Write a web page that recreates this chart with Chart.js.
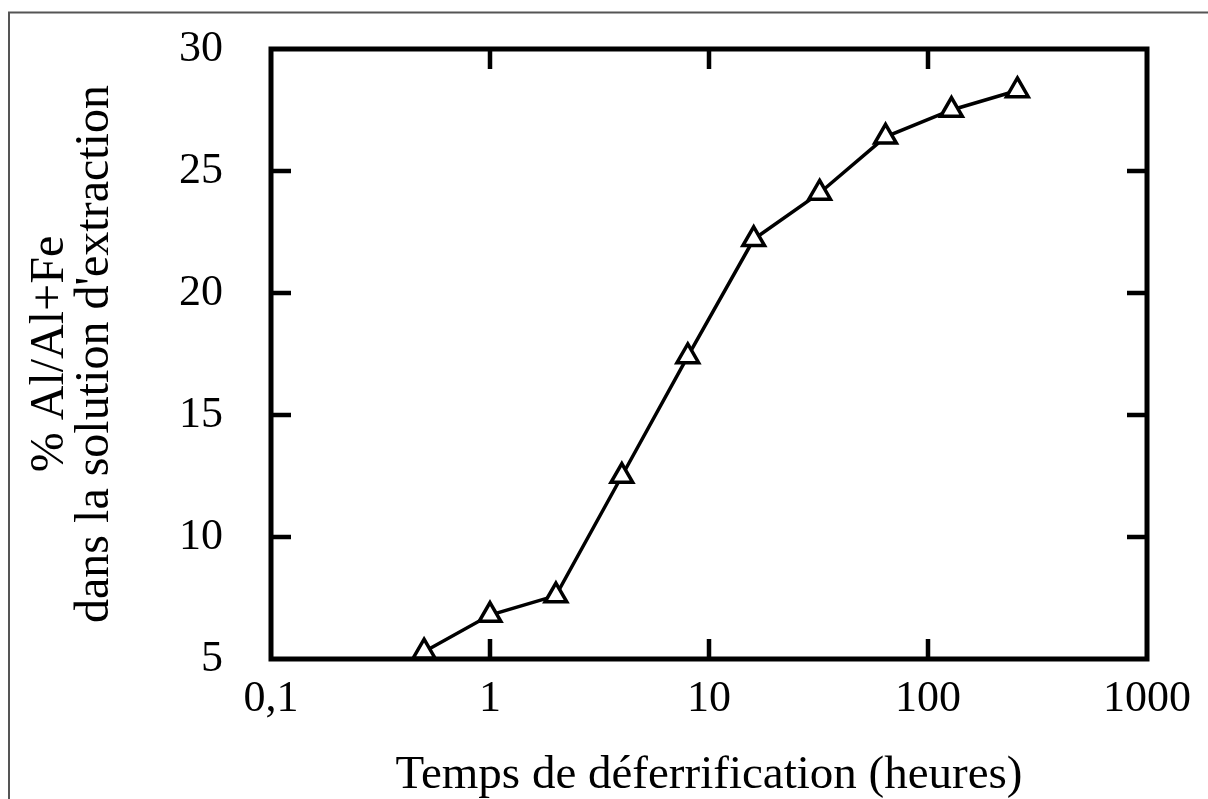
<!DOCTYPE html>
<html>
<head>
<meta charset="utf-8">
<script src="https://cdn.jsdelivr.net/npm/chart.js@4"></script>
<style>
  body { margin: 0; background: white; }
  canvas { display: block; }
</style>
</head>
<body>
<canvas id="myChart" width="1208" height="799"></canvas>
<script>
// temps (heures) et % Al/Al+Fe
const hours = [0.5, 1, 2, 4, 8, 16, 32, 64, 128, 256];
const alPercent = [5.3, 6.8, 7.6, 12.5, 17.4, 22.2, 24.1, 26.4, 27.5, 28.3];
const xTickValues = [0.1, 1, 10, 100, 1000];
const xTickLabels = ['0,1', '1', '10', '100', '1000'];
const yTickValues = [5, 10, 15, 20, 25, 30];

const serif = 'Liberation Serif';

// cadre du graphique + petites graduations vers l'intérieur
const framePlugin = {
    id: 'frame',
    beforeDraw(chart) {
        const ctx = chart.ctx;
        // trait du scan en haut et à gauche
        ctx.save();
        ctx.strokeStyle = '#555';
        ctx.lineWidth = 2;
        ctx.beginPath();
        ctx.moveTo(9, 799);
        ctx.lineTo(9, 12.5);
        ctx.lineTo(1208, 12.5);
        ctx.stroke();
        ctx.restore();
    },
    beforeDatasetsDraw(chart) {
        const { ctx, chartArea: a, scales } = chart;
        const tick = 20;
        ctx.save();
        ctx.strokeStyle = 'black';
        ctx.lineWidth = 4.5;
        ctx.lineCap = 'butt';
        ctx.beginPath();
        xTickValues.slice(1, -1).forEach(v => {
            const px = scales.x.getPixelForValue(v);
            ctx.moveTo(px, a.bottom); ctx.lineTo(px, a.bottom - tick);
            ctx.moveTo(px, a.top); ctx.lineTo(px, a.top + tick);
        });
        yTickValues.slice(1, -1).forEach(v => {
            const py = scales.y.getPixelForValue(v);
            ctx.moveTo(a.left, py); ctx.lineTo(a.left + tick, py);
            ctx.moveTo(a.right, py); ctx.lineTo(a.right - tick, py);
        });
        ctx.stroke();
        ctx.lineWidth = 5;
        ctx.lineJoin = 'miter';
        ctx.strokeRect(a.left, a.top, a.right - a.left, a.bottom - a.top);
        ctx.restore();
    }
};

new Chart(myChart, {
    type: 'scatter',
    data: {
        datasets: [{
            data: hours.map((h, i) => ({ x: h, y: alPercent[i] })),
            showLine: true,
            borderColor: 'black',
            borderWidth: 3.5,
            pointStyle: 'triangle',
            pointRadius: 12.5,
            pointHoverRadius: 12.5,
            pointBorderWidth: 3.5,
            pointBackgroundColor: 'white',
            pointBorderColor: 'black'
        }]
    },
    options: {
        responsive: false,
        animation: false,
        events: [],
        layout: { padding: { top: 49, right: 61, left: 0, bottom: 0 } },
        plugins: {
            legend: { display: false },
            tooltip: { enabled: false }
        },
        scales: {
            x: {
                type: 'logarithmic',
                min: 0.1,
                max: 1000,
                afterBuildTicks: s => { s.ticks = xTickValues.map(v => ({ value: v })); },
                afterFit: s => { s.height = 140; },
                grid: { display: false, drawTicks: false },
                border: { display: false },
                ticks: {
                    color: 'black',
                    padding: 14,
                    maxRotation: 0,
                    autoSkip: false,
                    font: { family: serif, size: 44 },
                    callback: (v, i) => xTickLabels[i]
                },
                title: {
                    display: true,
                    text: 'Temps de déferrification (heures)',
                    color: 'black',
                    font: { family: serif, size: 47, lineHeight: 1 },
                    padding: { top: 0, bottom: 0 }
                }
            },
            y: {
                min: 5,
                max: 30,
                afterBuildTicks: s => { s.ticks = yTickValues.map(v => ({ value: v })); },
                afterFit: s => {
                    s.width = 271;
                    s.paddingTop = 0;
                    s.paddingBottom = 0;
                },
                grid: { display: false, drawTicks: false },
                border: { display: false },
                ticks: {
                    color: 'black',
                    padding: 48,
                    font: { family: serif, size: 44 }
                },
                title: {
                    display: true,
                    text: ['% Al/Al+Fe', "dans la solution d'extraction"],
                    color: 'black',
                    font: { family: serif, size: 48, lineHeight: 0.94 },
                    padding: { top: 28, bottom: 0 }
                }
            }
        }
    },
    plugins: [framePlugin]
});
</script>
</body>
</html>
